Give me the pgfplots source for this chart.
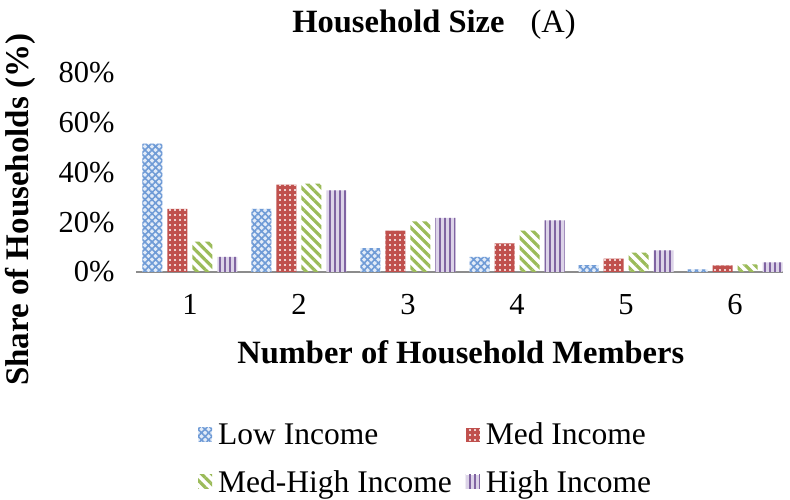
\documentclass[border=0pt]{standalone}
\usepackage{pgfplots}
\pgfplotsset{compat=1.18}
\usepackage{fontspec}
\setmainfont{Liberation Serif}
\usetikzlibrary{patterns.meta}
\definecolor{cLow}{HTML}{6F9BD6}
\definecolor{cLowBg}{HTML}{E3ECF8}
\definecolor{cMed}{HTML}{C0504D}
\definecolor{cMH}{HTML}{9BBB59}
\definecolor{cHigh}{HTML}{8064A2}
\definecolor{cHighBg}{HTML}{DCD3E8}
\definecolor{axgray}{HTML}{8C8C8C}
\begin{document}
\begin{tikzpicture}[x=1pt,y=1pt]
\path[use as bounding box] (0,0) rectangle (790,500);
\begin{axis}[
  at={(136pt,228pt)}, anchor=south west,
  scale only axis, width=647pt, height=199.5pt,
  xmin=0.505, xmax=6.44, ymin=0, ymax=80,
  axis x line=bottom, axis y line=left,
  x axis line style={draw=axgray, line width=1.6pt, -},
  y axis line style={draw=none},
  major tick length=0pt,
  xtick={1,2,3,4,5,6},
  ytick={0,20,40,60,80},
  yticklabel={\pgfmathprintnumber{\tick}\%},
  /pgf/number format/assume math mode=true,
  ticklabel style={font=\fontsize{30.5}{35}\selectfont},
  yticklabel style={anchor=east, xshift=-18pt},
  xticklabel style={anchor=north, yshift=-19pt},
  title={\textbf{Household Size}\hspace{0.8em}(A)},
  title style={at={(0.4606,1.212)}, anchor=center, font=\fontsize{32.5}{38}\selectfont},
  xlabel={\textbf{Number of Household Members}},
  xlabel style={at={(0.502,-0.402)}, anchor=center, font=\fontsize{32.5}{38}\selectfont},
  ylabel={\textbf{Share of Households (\%)}},
  ylabel style={at={(-0.179,0.312)}, anchor=center, rotate=0, font=\fontsize{33}{38}\selectfont},
  ybar, bar width=20pt,
  legend columns=2,
  legend cell align=left,
  legend style={draw=none, fill=none, at={(0.0912,-0.735)}, anchor=north west,
    font=\fontsize{31.5}{36}\selectfont, column sep=4pt, row sep=20pt,
    /tikz/every even column/.append style={column sep=12pt}},
  legend image code/.code={\path[#1, draw=none] (0pt,-7pt) rectangle (14pt,7pt);},
]
\addplot[draw=none, bar shift=-37.5pt, preaction={fill=cLowBg}, pattern={Hatch[angle=45,distance=5pt,line width=1.6pt]}, pattern color=cLow]
  coordinates {(1,51.5) (2,25.3) (3,9.6) (4,6.1) (5,2.8) (6,1.1)};
\addplot[draw=none, bar shift=-12.5pt, preaction={fill=cMed}, pattern={Dots[radius=1.1pt,distance=5pt]}, pattern color=white]
  coordinates {(1,25.3) (2,35.0) (3,16.6) (4,11.5) (5,5.4) (6,2.7)};
\addplot[draw=none, bar shift=12.5pt, pattern={Lines[angle=-45,distance=7pt,line width=3.2pt]}, pattern color=cMH]
  coordinates {(1,12.2) (2,35.4) (3,20.3) (4,16.6) (5,7.8) (6,3.1)};
\addplot[draw=none, bar shift=37.5pt, preaction={fill=cHighBg}, pattern={Lines[angle=90,distance=5pt,line width=2pt]}, pattern color=cHigh]
  coordinates {(1,6.1) (2,32.7) (3,21.7) (4,20.7) (5,8.7) (6,3.9)};
\legend{Low Income, Med Income, Med-High Income, High Income}
\end{axis}
\end{tikzpicture}
\end{document}
